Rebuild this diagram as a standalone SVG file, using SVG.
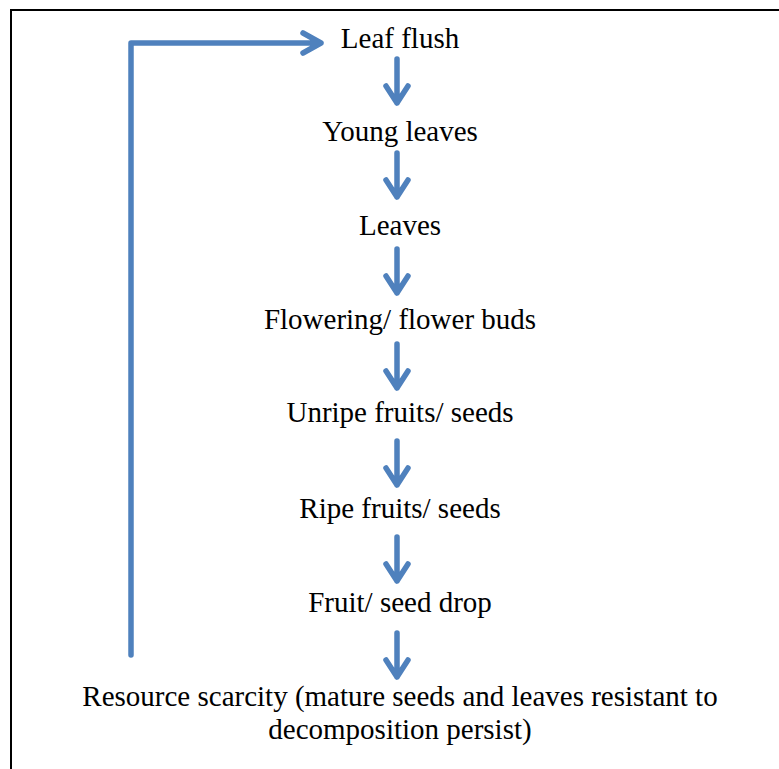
<svg xmlns="http://www.w3.org/2000/svg" width="779" height="769" viewBox="0 0 779 769">
<style>
.t{font-family:"Liberation Serif","Times New Roman",serif;font-size:29px;fill:#000;text-anchor:middle}
.a{fill:none;stroke:#4F81BD;stroke-width:5.5;stroke-linecap:round;stroke-linejoin:round}
</style>
<defs>
<g id="dn">
<path class="a" d="M0,0 V44 M-11,27 L0,44 L11,27"/>
</g>
</defs>
<rect x="11" y="10" width="800" height="800" fill="#fff" stroke="#000" stroke-width="2"/>
<g id="connectors">
<use href="#dn" x="397" y="59"/>
<use href="#dn" x="397" y="153"/>
<use href="#dn" x="397" y="249"/>
<use href="#dn" x="397" y="344"/>
<use href="#dn" x="397" y="441"/>
<use href="#dn" x="397" y="537"/>
<use href="#dn" x="397" y="633"/>
<path class="a" d="M131,655 V43 H321 M303,33 L321,43 L303,53"/>
</g>
<g id="n1"><text class="t" x="400" y="48">Leaf flush</text></g>
<g id="n2"><text class="t" x="400" y="141">Young leaves</text></g>
<g id="n3"><text class="t" x="400" y="235">Leaves</text></g>
<g id="n4"><text class="t" x="400" y="329">Flowering/ flower buds</text></g>
<g id="n5"><text class="t" x="400" y="422">Unripe fruits/ seeds</text></g>
<g id="n6"><text class="t" x="400" y="518">Ripe fruits/ seeds</text></g>
<g id="n7"><text class="t" x="400" y="612">Fruit/ seed drop</text></g>
<g id="n8"><text class="t" x="400" y="706">Resource scarcity (mature seeds and leaves resistant to</text><text class="t" x="400" y="739">decomposition persist)</text></g>
</svg>
